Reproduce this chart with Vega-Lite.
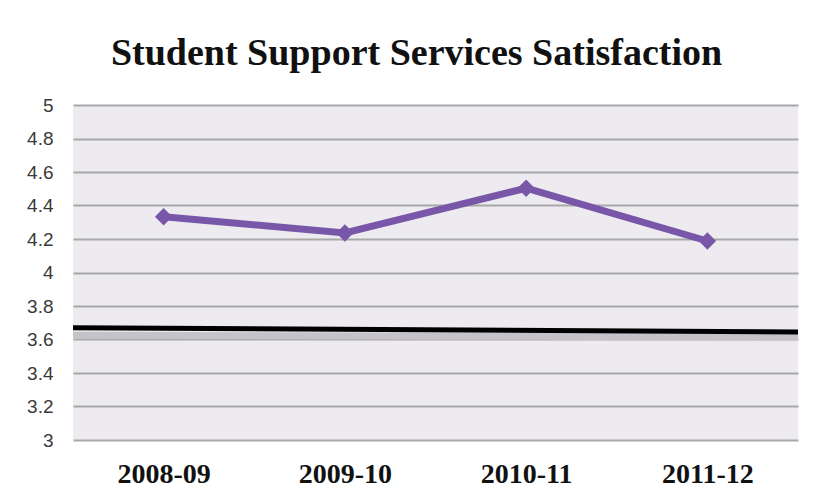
{
  "$schema": "https://vega.github.io/schema/vega-lite/v6.json",
  "width": 725,
  "height": 335,
  "autosize": {"type": "none"},
  "padding": {"left": 73, "top": 105, "right": 19, "bottom": 59},
  "background": "white",
  "title": {
    "text": "Student Support Services Satisfaction",
    "font": "Liberation Serif",
    "fontSize": 38,
    "fontWeight": "bold",
    "color": "#111111",
    "anchor": "middle",
    "baseline": "alphabetic",
    "offset": 39,
    "dy": 46,
    "dx": -19
  },
  "config": {
    "view": {"fill": "#edeaf0", "stroke": null},
    "axisY": {
      "grid": true,
      "gridColor": "#a8a8a8",
      "gridWidth": 2,
      "domain": false,
      "ticks": false,
      "labelPadding": 20,
      "labelFont": "Liberation Sans",
      "labelFontSize": 19,
      "labelColor": "#3a3a3a",
      "title": null
    },
    "axisX": {
      "grid": false,
      "domain": false,
      "ticks": false,
      "labelFont": "Liberation Serif",
      "labelFontWeight": "bold",
      "labelFontSize": 28,
      "labelColor": "#111111",
      "labelPadding": 20,
      "labelAngle": 0,
      "title": null
    }
  },
  "datasets": {
    "scores": [
      {"year": "2008-09", "score": 4.333},
      {"year": "2009-10", "score": 4.236},
      {"year": "2010-11", "score": 4.503},
      {"year": "2011-12", "score": 4.188}
    ],
    "benchmark": [
      {"t": 0, "score": 3.67},
      {"t": 1, "score": 3.645}
    ],
    "shadow": [
      {"t": 0, "score": 3.625},
      {"t": 1, "score": 3.615}
    ]
  },
  "layer": [
    {
      "data": {"name": "shadow"},
      "mark": {"type": "line", "color": "#c6c2ca", "strokeWidth": 7},
      "encoding": {
        "x": {"field": "t", "type": "quantitative", "scale": {"domain": [0, 1], "nice": false}, "axis": null},
        "y": {"field": "score", "type": "quantitative", "scale": {"domain": [3, 5], "nice": false}, "axis": {"values": [3, 3.2, 3.4, 3.6, 3.8, 4, 4.2, 4.4, 4.6, 4.8, 5], "format": "~g", "title": null}}
      }
    },
    {
      "data": {"name": "benchmark"},
      "mark": {"type": "line", "color": "#000000", "strokeWidth": 5},
      "encoding": {
        "x": {"field": "t", "type": "quantitative", "scale": {"domain": [0, 1], "nice": false}, "axis": null},
        "y": {"field": "score", "type": "quantitative", "scale": {"domain": [3, 5], "nice": false}, "axis": {"values": [3, 3.2, 3.4, 3.6, 3.8, 4, 4.2, 4.4, 4.6, 4.8, 5], "format": "~g", "title": null}}
      }
    },
    {
      "data": {"name": "scores"},
      "mark": {
        "type": "line",
        "color": "#7857a8",
        "strokeWidth": 7,
        "point": {"shape": "diamond", "size": 300, "filled": true, "color": "#7857a8"}
      },
      "encoding": {
        "x": {"field": "year", "type": "ordinal", "scale": {"type": "point", "padding": 0.5}},
        "y": {"field": "score", "type": "quantitative", "scale": {"domain": [3, 5], "nice": false}, "axis": {"values": [3, 3.2, 3.4, 3.6, 3.8, 4, 4.2, 4.4, 4.6, 4.8, 5], "format": "~g", "title": null}}
      }
    }
  ],
  "resolve": {"scale": {"x": "independent"}}
}
